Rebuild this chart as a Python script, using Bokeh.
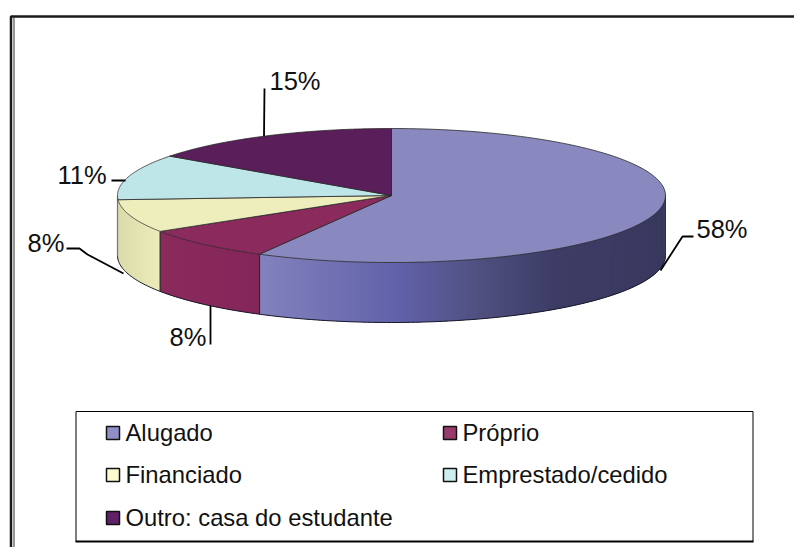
import numpy as np
from bokeh.plotting import figure
from bokeh.models import Range1d
from bokeh.embed import file_html
from bokeh.resources import INLINE
from bokeh.core.properties import value

categories = ["Alugado", "Próprio", "Financiado", "Emprestado/cedido", "Outro: casa do estudante"]
shares = [58, 8, 8, 11, 15]
top_colors = ["#8a89bf", "#8b2a5c", "#eeeebd", "#bee6e8", "#5a1e5a"]
legend_colors = ["#8f8ec6", "#983a6c", "#fbfbcf", "#cdeef0", "#5f2068"]
pct_labels = ["58%", "8%", "8%", "11%", "15%"]

W, H = 794, 547
OX, OY = 0, 0
p = figure(width=W, height=H, output_backend="svg", toolbar_location=None,
           x_range=Range1d(OX, OX + W), y_range=Range1d(OY + H, OY),
           min_border=0, outline_line_color=None, background_fill_color="white",
           border_fill_color="white")
p.axis.visible = False
p.grid.visible = False

CX, CY, RX, RY, DEPTH = 391.0, 195.0, 274.0, 67.0, 60.0


def ex(t):
    return CX + RX * np.sin(np.radians(t))


def ey(t):
    return CY - RY * np.cos(np.radians(t))


def hex2rgb(h):
    return np.array([int(h[i:i + 2], 16) for i in (1, 3, 5)], float)


def grad(stops, x):
    xs = [s[0] for s in stops]
    cs = np.array([hex2rgb(s[1]) for s in stops])
    c = [np.interp(x, xs, cs[:, i]) for i in range(3)]
    return "#%02x%02x%02x" % tuple(int(round(v)) for v in c)


side_stops = [
    [(263, "#8281bd"), (400, "#6061a9"), (480, "#50507f"), (555, "#3c3c66"), (665, "#39395f")],
    [(163, "#8b2a5c"), (263, "#84265a")],
    [(117, "#dadaab"), (163, "#eeeebc")],
    [(110, "#8a8a70"), (118, "#8a8a70")],
]

bounds = np.concatenate([[0], np.cumsum(shares)]) * 3.6

# side wall: overlapping strips, painted in angle order so no seams show
xs_s, ys_s, cols_s = [], [], []
for i in range(4):
    a0, a1 = max(bounds[i], 90.0), min(bounds[i + 1], 270.0)
    n = max(int((a1 - a0) / 0.5), 1)
    ts = np.linspace(a0, a1, n + 1)
    for t0, t1 in zip(ts[:-1], ts[1:]):
        t2 = min(t1 + 1.0, a1)
        seg = np.linspace(t0, t2, 5)
        xs_s.append(list(ex(seg)) + list(ex(seg[::-1])))
        ys_s.append(list(ey(seg)) + list(ey(seg[::-1]) + DEPTH))
        cols_s.append(grad(side_stops[i], 0.5 * (ex(t0) + ex(t1))))
p.patches(xs_s, ys_s, fill_color=cols_s, line_color=None)

# bottom rim and slice dividers on the wall
tb = np.linspace(90, 270, 181)
p.line(ex(tb), ey(tb) + DEPTH, line_color="#1a1a2a", line_width=1)
for b in bounds[1:3]:
    p.line([ex(b), ex(b)], [ey(b), ey(b) + DEPTH], line_color="#2a2a2a", line_width=1.2)
p.line([ex(90), ex(90)], [ey(90), ey(90) + DEPTH], line_color="#333333", line_width=1)
p.line([ex(270), ex(270)], [ey(270), ey(270) + DEPTH], line_color="#777777", line_width=1.2)

# top face
xs_t, ys_t = [], []
for i in range(5):
    ts = np.linspace(bounds[i], bounds[i + 1], 120)
    xs_t.append([CX] + list(ex(ts)))
    ys_t.append([CY] + list(ey(ts)))
p.patches(xs_t, ys_t, fill_color=top_colors, line_color="#2a2a2a", line_width=0.8)

# frame
p.line([794, 10.5, 10.5], [16, 16, 547], line_color="#1a1a1a", line_width=2.5)
p.line([13.5, 13.5], [17, 547], line_color="#333333", line_width=1)

# leaders
leaders = [
    ([693, 682, 660], [236, 236, 270]),
    ([210, 210], [305, 344]),
    ([66, 79, 87, 123], [248, 248, 254, 273]),
    ([111, 125], [180, 180]),
    ([264, 263.5], [88, 136]),
]
for lx, ly in leaders:
    p.line(lx, ly, line_color="black", line_width=1.8)

# percent labels
lab_x = [696, 169, 27, 57, 269]
lab_y = [228, 336, 242, 174, 80]
p.text(lab_x, lab_y, text=pct_labels, text_font=value("Liberation Sans"),
       text_font_size="25.5px", text_color="#111111", text_baseline="alphabetic", text_align="left")

# legend
p.quad(left=[75.5], right=[752.5], top=[411], bottom=[541], fill_color="white",
       line_color="black", line_width=1)
p.line([75, 753], [541, 541], line_color="black", line_width=2)
leg_col_x = [106, 443, 106, 443, 106]
leg_row_y = [440, 440, 482, 482, 525]
p.quad(left=leg_col_x, right=[x + 13 for x in leg_col_x],
       top=[y - 14 for y in leg_row_y], bottom=[y - 1 for y in leg_row_y],
       fill_color=legend_colors, line_color="#111111", line_width=1.5)
p.text([x + 19 for x in leg_col_x], [y - 8 for y in leg_row_y], text=categories,
       text_font=value("Liberation Sans"),
       text_font_size="23.8px", text_color="#111111", text_baseline="alphabetic", text_align="left")

open("out.html", "w").write(file_html(p, INLINE))
